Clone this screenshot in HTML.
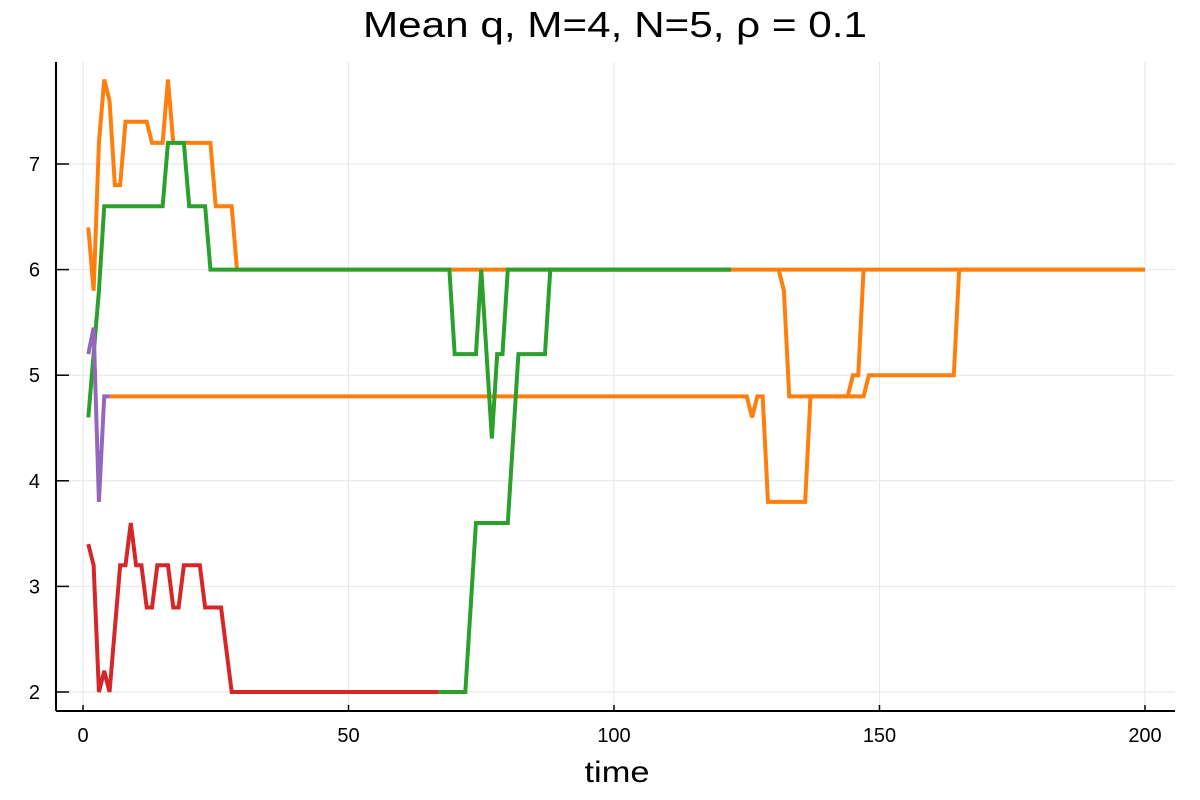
<!DOCTYPE html>
<html><head><meta charset="utf-8"><style>
html,body{margin:0;padding:0;background:#fff;}
svg{display:block;font-family:"Liberation Sans","DejaVu Sans",sans-serif;}
</style></head><body>
<svg id="chart" width="1200" height="800" xmlns="http://www.w3.org/2000/svg">
<text x="615" y="37" text-anchor="middle" font-size="36" textLength="504" lengthAdjust="spacingAndGlyphs" fill="#000">Mean q, M=4, N=5, ρ = 0.1</text>
<text x="617" y="782" text-anchor="middle" font-size="30" textLength="65" lengthAdjust="spacingAndGlyphs" fill="#000">time</text>
<g id="grid"></g>
<g id="series"></g>
<g id="axes"></g>
</svg>
<script>
const xTicks = [0, 50, 100, 150, 200];
const yTicks = [2, 3, 4, 5, 6, 7];
const orangeTopT = [1,2,3,4,5,6,7,8,12,13,15,16,17,24,25,28,29,200];
const orangeTopQ = [6.4,5.8,7.2,7.8,7.6,6.8,6.8,7.4,7.4,7.2,7.2,7.8,7.2,7.2,6.6,6.6,6.0,6.0];
const orangeLowT = [5,125,126,127,128,129,136,137,147,148,164,165,200];
const orangeLowQ = [4.8,4.8,4.6,4.8,4.8,3.8,3.8,4.8,4.8,5.0,5.0,6.0,6.0];
const orangeMidT = [131,132,133,144,145,146,147];
const orangeMidQ = [6.0,5.8,4.8,4.8,5.0,5.0,6.0];
const greenAT = [1,2,3,4,15,16,19,20,23,24,69,70,74,75,77,78,79,80,122];
const greenAQ = [4.6,5.2,5.8,6.6,6.6,7.2,7.2,6.6,6.6,6.0,6.0,5.2,5.2,6.0,4.4,5.2,5.2,6.0,6.0];
const greenBT = [67,72,74,80,82,87,88,122];
const greenBQ = [2.0,2.0,3.6,3.6,5.2,5.2,6.0,6.0];
const redT = [1,2,3,4,5,7,8,9,10,11,12,13,14,16,17,18,19,22,23,26,28,67];
const redQ = [3.4,3.2,2.0,2.2,2.0,3.2,3.2,3.6,3.2,3.2,2.8,2.8,3.2,3.2,2.8,2.8,3.2,3.2,2.8,2.8,2.0,2.0];
const purpleT = [1,2,3,4,5];
const purpleQ = [5.2,5.45,3.8,4.8,4.8];

const NS = "http://www.w3.org/2000/svg";
const L = 56, R = 1175, T = 62, B = 711;
function xs(t){ return 83 + t * (1145 - 83) / 200; }
function ys(q){ return 692 - (q - 2) * (692 - 164) / 5; }
function mk(tag, attrs, parent){
  const e = document.createElementNS(NS, tag);
  for (const k in attrs) e.setAttribute(k, attrs[k]);
  parent.appendChild(e);
  return e;
}
const grid = document.getElementById('grid');
const axes = document.getElementById('axes');
const ser = document.getElementById('series');
xTicks.forEach(v => {
  const g = mk('line', {x1: xs(v), x2: xs(v), y1: T, y2: B, stroke: '#e6e6e6', 'stroke-width': 1}, grid);
  
  
  const tk = mk('line', {x1: xs(v), x2: xs(v), y1: B, y2: B - 6, stroke: '#000', 'stroke-width': 1.5}, axes);
  
  
  const lb = mk('text', {x: xs(v), y: 742, 'text-anchor': 'middle', 'font-size': 20, fill: '#000'}, axes);
  lb.textContent = v;
  
  
});
yTicks.forEach(v => {
  const g = mk('line', {x1: L, x2: R, y1: ys(v), y2: ys(v), stroke: '#e6e6e6', 'stroke-width': 1}, grid);
  
  
  const tk = mk('line', {x1: L, x2: L + 13, y1: ys(v), y2: ys(v), stroke: '#000', 'stroke-width': 1.5}, axes);
  
  
  const lb = mk('text', {x: 40, y: ys(v) + 7, 'text-anchor': 'end', 'font-size': 20, fill: '#000'}, axes);
  lb.textContent = v;
  
  
});
const ax1 = mk('line', {x1: L, x2: L, y1: T, y2: B, stroke: '#000', 'stroke-width': 2}, axes);


const ax2 = mk('line', {x1: L, x2: R, y1: B, y2: B, stroke: '#000', 'stroke-width': 2}, axes);



function drawLine(ts, qs, color, name){
  const pts = ts.map((t, i) => xs(t).toFixed(2) + ',' + ys(qs[i]).toFixed(2)).join(' ');
  const p = mk('polyline', {points: pts, fill: 'none', stroke: color, 'stroke-width': 4, 'stroke-linejoin': 'miter', 'stroke-miterlimit': 3}, ser);
  
  
}
drawLine(orangeTopT, orangeTopQ, '#ff7f0e', 'series-orange-top');
drawLine(orangeLowT, orangeLowQ, '#ff7f0e', 'series-orange-low');
drawLine(orangeMidT, orangeMidQ, '#ff7f0e', 'series-orange-mid');
drawLine(greenAT, greenAQ, '#2ca02c', 'series-green-a');
drawLine(greenBT, greenBQ, '#2ca02c', 'series-green-b');
drawLine(redT, redQ, '#d62728', 'series-red');
drawLine(purpleT, purpleQ, '#9467bd', 'series-purple');
</script>
</body></html>
